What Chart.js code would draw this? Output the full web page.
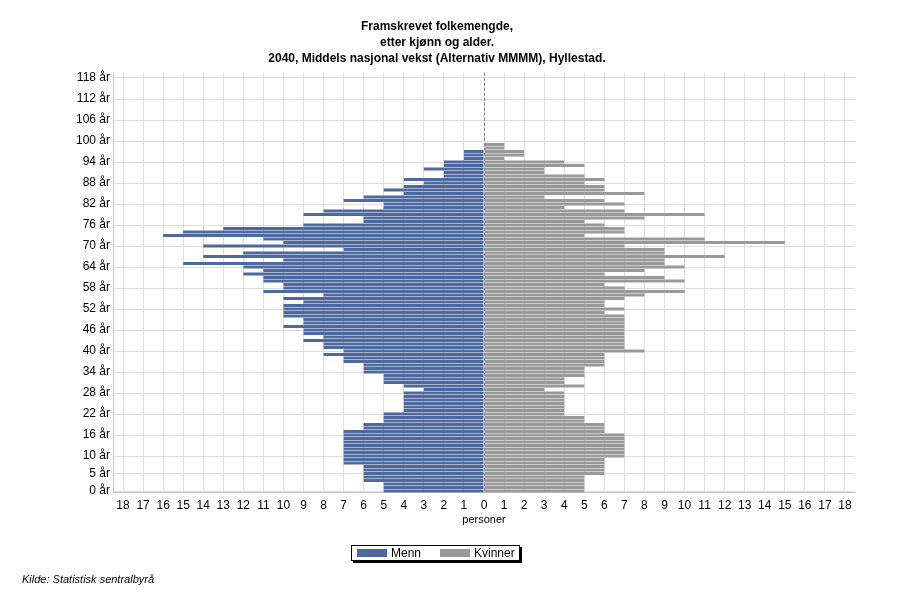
<!DOCTYPE html>
<html>
<head>
<meta charset="utf-8">
<script src="https://cdn.jsdelivr.net/npm/chart.js@4.4.1/dist/chart.umd.min.js"></script>
<style>
  html, body { margin: 0; padding: 0; background: #fff; }
  #wrap { width: 900px; height: 600px; }
</style>
</head>
<body>
<div id="wrap"><canvas id="myChart"></canvas></div>
<script>
// Population pyramid, Hyllestad 2040

// age categories 0..119 (one bar per year)
const ages = [];
for (let a = 0; a < 120; a++) ages.push(a);

// labelled ticks on the age axis
const yTickAges = [0, 5, 10, 16, 22, 28, 34, 40, 46, 52, 58, 64, 70, 76, 82, 88, 94, 100, 106, 112, 118];
const yTickLabels = yTickAges.map(a => a + ' år');

// persons per age, 0..100
const menn = [
  5, 5, 5, 6, 6, 6, 6, 6, 7, 7,
  7, 7, 7, 7, 7, 7, 7, 7, 6, 6,
  5, 5, 5, 4, 4, 4, 4, 4, 4, 3,
  4, 5, 5, 5, 6, 6, 6, 7, 7, 8,
  7, 8, 8, 9, 8, 9, 9, 10, 9, 9,
  10, 10, 10, 10, 9, 10, 8, 11, 10, 10,
  11, 11, 12, 11, 12, 15, 10, 14, 12, 7,
  14, 10, 11, 16, 15, 13, 9, 6, 6, 9,
  8, 5, 5, 7, 6, 4, 5, 4, 3, 4,
  2, 2, 3, 2, 2, 1, 1, 1, 0, 0,
  0
];
const kvinner = [
  5, 5, 5, 5, 5, 6, 6, 6, 6, 6,
  7, 7, 7, 7, 7, 7, 7, 6, 6, 6,
  5, 5, 4, 4, 4, 4, 4, 4, 4, 3,
  5, 4, 4, 5, 5, 5, 6, 6, 6, 6,
  8, 7, 7, 7, 7, 7, 7, 7, 7, 7,
  7, 6, 7, 6, 6, 7, 8, 10, 7, 6,
  10, 9, 6, 8, 10, 9, 9, 12, 9, 9,
  7, 15, 11, 5, 7, 7, 6, 5, 8, 11,
  7, 4, 7, 6, 3, 8, 6, 6, 5, 6,
  5, 3, 3, 5, 4, 1, 2, 2, 1, 1,
  0
];

const xMax = 18;
const titleLines = ['Framskrevet folkemengde,', 'etter kjønn og alder.', '2040, Middels nasjonal vekst (Alternativ MMMM), Hyllestad.'];
const seriesNames = ['Menn', 'Kvinner'];
const seriesColors = ['#4d69a0', '#999999'];
const FONT = "'Liberation Sans', Arial, sans-serif";

// dashed line at x = 0, drawn under the bars
const zeroLine = {
  id: 'zeroLine',
  beforeDatasetsDraw(chart) {
    const ctx = chart.ctx, a = chart.chartArea;
    const x = Math.round(chart.scales.x.getPixelForValue(0)) + 0.5;
    ctx.save();
    ctx.strokeStyle = '#808080';
    ctx.lineWidth = 1;
    ctx.setLineDash([3, 2]);
    ctx.beginPath();
    ctx.moveTo(x, a.top);
    ctx.lineTo(x, a.bottom);
    ctx.stroke();
    ctx.restore();
  }
};

// title, boxed legend and source line
const decorations = {
  id: 'decorations',
  afterDraw(chart) {
    const ctx = chart.ctx;
    ctx.save();
    ctx.fillStyle = '#000';
    ctx.textAlign = 'center';
    ctx.textBaseline = 'middle';
    ctx.font = 'bold 12px ' + FONT;
    titleLines.forEach((t, i) => ctx.fillText(t, 437, 26.5 + i * 16));

    // legend box with shadow
    const bx = 351, by = 545, bw = 169, bh = 16;
    ctx.fillStyle = '#000';
    ctx.fillRect(bx + 2, by + 2, bw, bh);
    ctx.fillStyle = '#fff';
    ctx.fillRect(bx, by, bw, bh);
    ctx.strokeStyle = '#000';
    ctx.lineWidth = 1;
    ctx.strokeRect(bx + 0.5, by + 0.5, bw - 1, bh - 1);
    ctx.font = '12px ' + FONT;
    ctx.textAlign = 'left';
    const items = [[357, 391], [440, 474]];
    items.forEach((p, i) => {
      ctx.fillStyle = seriesColors[i];
      ctx.fillRect(p[0], by + 4, 30, 8);
      ctx.fillStyle = '#000';
      ctx.fillText(seriesNames[i], p[1], by + 8.5);
    });

    ctx.font = 'italic 11px ' + FONT;
    ctx.fillText('Kilde: Statistisk sentralbyrå', 22, 580);
    ctx.restore();
  }
};

const chart = new Chart(document.getElementById('myChart'), {
  type: 'bar',
  data: {
    labels: ages,
    datasets: [
      {
        label: seriesNames[0],
        data: menn.map(v => -v),
        backgroundColor: seriesColors[0],
        borderWidth: 0,
        barPercentage: 1,
        categoryPercentage: 0.86
      },
      {
        label: seriesNames[1],
        data: kvinner,
        backgroundColor: seriesColors[1],
        borderWidth: 0,
        barPercentage: 1,
        categoryPercentage: 0.86
      }
    ]
  },
  options: {
    indexAxis: 'y',
    responsive: true,
    maintainAspectRatio: false,
    animation: false,
    layout: { padding: { top: 72.75, left: 0, right: 45, bottom: 73.25 } },
    scales: {
      x: {
        type: 'linear',
        stacked: true,
        min: -xMax - 0.5,
        max: xMax + 0.5,
        afterBuildTicks: s => {
          const t = [];
          for (let v = -xMax; v <= xMax; v++) t.push({ value: v });
          s.ticks = t;
        },
        afterFit: s => { s.height = 34; },
        grid: { color: '#dddddd', drawTicks: false },
        border: { color: '#c8c8c8' },
        ticks: {
          color: '#000',
          padding: 6,
          font: { family: FONT, size: 12 },
          callback: v => Math.abs(v)
        },
        title: {
          display: true,
          text: 'personer',
          color: '#000',
          padding: { top: 0, bottom: 0 },
          font: { family: FONT, size: 11 }
        }
      },
      y: {
        type: 'category',
        stacked: true,
        reverse: true,
        afterFit: s => { s.width = 113; },
        grid: {
          offset: false,
          drawTicks: false,
          color: c => (c.tick && yTickAges.includes(c.tick.value)) ? '#dddddd' : 'rgba(0,0,0,0)'
        },
        border: { color: '#c8c8c8' },
        ticks: {
          autoSkip: false,
          color: '#000',
          padding: 3,
          font: { family: FONT, size: 12 },
          callback: function (v) {
            const i = yTickAges.indexOf(v);
            return i >= 0 ? yTickLabels[i] : '';
          }
        }
      }
    },
    plugins: {
      legend: { display: false },
      title: { display: false },
      tooltip: { enabled: false }
    }
  },
  plugins: [zeroLine, decorations]
});
</script>
</body>
</html>
